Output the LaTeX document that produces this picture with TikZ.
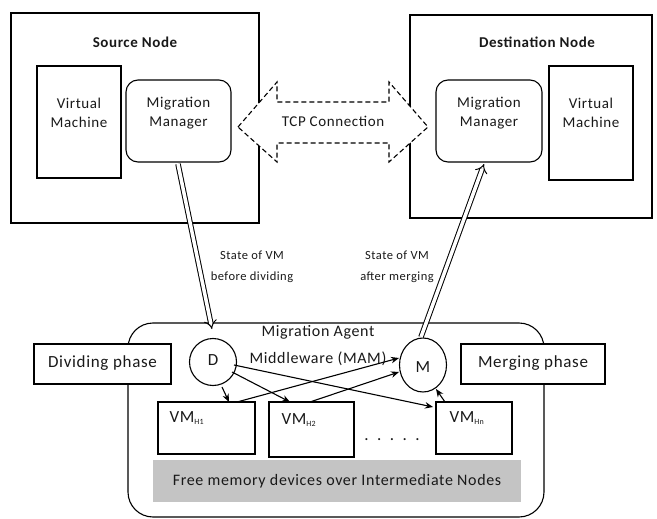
\documentclass[tikz,border=0pt]{standalone}
\usepackage{fontspec}
\setmainfont{Carlito}[LetterSpace=4]
\usetikzlibrary{arrows.meta,shapes.geometric}
\tikzset{
  box/.style={draw, line width=1.1pt, fill=white, inner sep=0pt},
  rbox/.style={draw, line width=1.1pt, fill=white, rounded corners=12pt, inner sep=0pt},
  circ/.style={draw, line width=1.1pt, fill=white, ellipse, inner sep=0pt},
  conn/.style={line width=1.1pt, -{Stealth[length=8pt,width=6.5pt]}},
  hollow/.style={double, double distance=3.5pt, line width=1pt, -{Implies}},
  txt/.style={font=\fontsize{15}{19}\selectfont, align=center, text=black!90},
  big/.style={font=\fontsize{17}{22}\selectfont, align=center, text=black!90},
  small/.style={font=\fontsize{13}{21}\selectfont, align=center, text=black!90},
}
\begin{document}
\begin{tikzpicture}[x=1pt,y=-1pt]
\useasboundingbox (0,0) rectangle (657,519);
% Source and destination containers
\node[box, minimum width=248pt, minimum height=210pt] (src) at (135,118) {};
\node[box, minimum width=242pt, minimum height=203pt] (dst) at (531,116.5) {};
\node[txt, font=\fontsize{15}{19}\selectfont\bfseries] (srct) at (135,42) {Source Node};
\node[txt, font=\fontsize{15}{19}\selectfont\bfseries] (dstt) at (537,42) {Destination Node};
\node[box, minimum width=84pt, minimum height=112pt] (svm) at (79,122) {};
\node[txt] (svmt) at (79,113) {Virtual\\Machine};
\node[rbox, minimum width=105pt, minimum height=82pt] (smm) at (178.5,121) {};
\node[txt] (smmt) at (178.5,113) {Migration\\Manager};
\node[box, minimum width=84pt, minimum height=114pt] (dvm) at (591,123) {};
\node[txt] (dvmt) at (591,113) {Virtual\\Machine};
\node[rbox, minimum width=106pt, minimum height=82pt] (dmm) at (489,121) {};
\node[txt] (dmmt) at (489,113) {Migration\\Manager};
% TCP connection double block arrow
\draw[line width=1.1pt, fill=white, dash pattern=on 5pt off 3pt]
  (238,127) -- (277,82) -- (277,102) -- (389,102) -- (389,82) -- (428,127)
  -- (389,162) -- (389,143) -- (277,143) -- (277,162) -- cycle;
\node[txt] (tcp) at (333,121) {TCP Connection};
% MAM container
\draw[line width=1.1pt, rounded corners=25pt] (128,323) rectangle (544,517);
\node[big, font=\fontsize{16}{27}\selectfont] (mam) at (318,346) {Migration Agent\\Middleware (MAM)};
\node[box, minimum width=137pt, minimum height=40pt] (div) at (102.5,364) {};
\node[big] (divt) at (102.5,363) {Dividing phase};
\node[box, minimum width=144pt, minimum height=40pt] (mer) at (533,364) {};
\node[big] (mert) at (533,363) {Merging phase};
% grey bar
\node[fill={rgb,255:red,196;green,196;blue,196}, minimum width=368pt, minimum height=42pt, inner sep=0pt] (bar) at (337,481) {};
\node[txt, font=\fontsize{16}{20}\selectfont] (bart) at (337,481) {Free memory devices over Intermediate Nodes};
% VM boxes
\node[box, minimum width=97pt, minimum height=52pt] (h1) at (206.5,428) {};
\node[box, minimum width=85pt, minimum height=55pt] (h2) at (311.5,429.5) {};
\node[box, minimum width=76pt, minimum height=52pt] (hn) at (474,428) {};
\node[big, anchor=west] (h1t) at (166,418) {VM\textsubscript{\fontsize{8}{9}\selectfont H1}};
\node[big, anchor=west] (h2t) at (278,420) {VM\textsubscript{\fontsize{8}{9}\selectfont H2}};
\node[big, anchor=west] (hnt) at (446,418) {VM\textsubscript{\fontsize{8}{9}\selectfont Hn}};
\node[big] (dots) at (392,440) {.\,\,\,.\,\,\,.\,\,\,.\,\,\,.};
% D and M
\node[circ, minimum width=47pt, minimum height=47pt] (D) at (213,362) {};
\node[big] (Dt) at (213,360) {D};
\node[circ, minimum width=47pt, minimum height=54pt] (M) at (423,365) {};
\node[big] (Mt) at (423,367) {M};
% arrows in MAM
\coordinate (d1) at (222,387);
\coordinate (d2) at (232,372);
\coordinate (d3) at (234,365);
\draw[conn] (d1) -- (229,402);
\draw[conn] (d2) -- (290,402);
\draw[conn] (d3) -- (433,407);
\draw[conn] (237,402) -- (399,358);
\draw[conn] (310,402) -- (399,372);
\draw[conn] (445,402) -- (436,389);
% hollow arrows
\draw[hollow] (178,164) -- (212,329);
\draw[hollow] (421,337) -- (484,164);
% labels
\node[small, font=\fontsize{12.5}{21}\selectfont] (l1) at (252,267) {State of VM\\before dividing};
\node[small, font=\fontsize{12.5}{21}\selectfont] (l2) at (397,267) {State of VM\\after merging};
\end{tikzpicture}
\end{document}
